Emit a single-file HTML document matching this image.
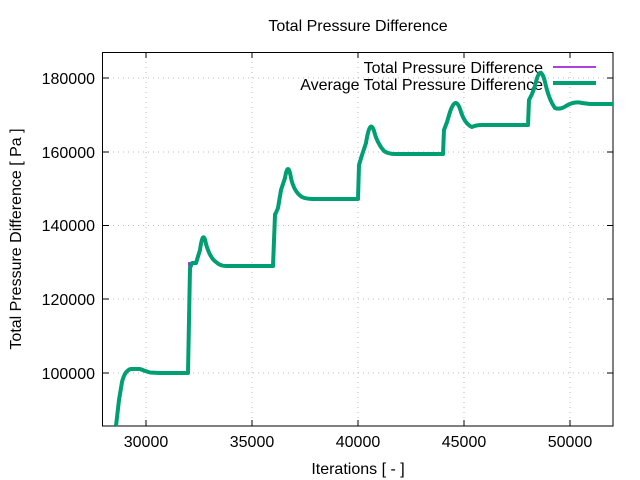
<!DOCTYPE html>
<html><head><style>body{margin:0;background:#fff}svg{display:block}text{font-family:"Liberation Sans",sans-serif;font-size:16px;fill:#000}</style></head><body>
<svg width="640" height="480" xmlns="http://www.w3.org/2000/svg">
<g stroke="#bbb" stroke-width="1" stroke-dasharray="1,4">
<line x1="146" y1="52" x2="146" y2="426"/><line x1="252" y1="52" x2="252" y2="426"/><line x1="358" y1="52" x2="358" y2="426"/><line x1="464" y1="52" x2="464" y2="426"/><line x1="570" y1="52" x2="570" y2="426"/>
<line x1="103" y1="373" x2="613" y2="373"/><line x1="103" y1="299" x2="613" y2="299"/><line x1="103" y1="225.5" x2="613" y2="225.5"/><line x1="103" y1="152" x2="613" y2="152"/><line x1="103" y1="78" x2="613" y2="78"/>
</g>
<g stroke="#000" stroke-width="1">
<rect x="102.5" y="52.5" width="510.5" height="373.5" fill="none"/>
<path d="M146 426v-6M252 426v-6M358 426v-6M464 426v-6M570 426v-6M146 52v6M252 52v6M358 52v6M464 52v6M570 52v6M103 373h6M103 299h6M103 225.5h6M103 152h6M103 78h6M613 373h-6M613 299h-6M613 225.5h-6M613 152h-6M613 78h-6"/>
</g>
<g text-anchor="end">
<text x="95" y="379">100000</text><text x="95" y="305">120000</text><text x="95" y="231">140000</text><text x="95" y="158">160000</text><text x="95" y="84">180000</text>
</g>
<g text-anchor="middle">
<text x="146" y="447">30000</text><text x="252" y="447">35000</text><text x="358" y="447">40000</text><text x="464" y="447">45000</text><text x="570" y="447">50000</text>
<text x="358" y="31">Total Pressure Difference</text>
<text x="358" y="474">Iterations [ - ]</text>
<text transform="translate(21,239) rotate(-90)">Total Pressure Difference [ Pa ]</text>
</g>
<g text-anchor="end"><text x="543" y="73">Total Pressure Difference</text><text x="543" y="90">Average Total Pressure Difference</text></g>
<line x1="553" y1="67" x2="596" y2="67" stroke="#9400d3" stroke-width="1.5"/>
<line x1="553" y1="83" x2="596" y2="83" stroke="#009e73" stroke-width="4"/>
<path d="M188.5 373 L189 262 M273.5 266 L274 213 M359 199 L359.5 165 M444 155 L444.5 128 M529 125 L529.5 98" stroke="#9400d3" stroke-width="1.5" fill="none"/>
<path d="M116 426 L119 400 L122 382 Q125 370 131 369 L140 369 Q145 371 150 372.5 L160 373 L188 373 L189 320 L190 268 L192 263 L196 263 L200 250 Q203 228 206 244 Q210 258 216 262 Q220 266 226 266 L273 266 L275 215 L278 208 L281 190 L285 178 Q288 160 291 178 Q294 192 302 197 Q306 199 314 199 L358 199 L359 165 L362 155 L366 143 Q370 118 374 131 Q377 143 384 151 Q388 154 396 154 L443 154 L444 130 L447 122 L450 112 Q456 94 461 112 Q465 124 472 127 Q476 125 482 125 L528 125 L529 100 L532 94 L535 86 Q540 62 545 82 Q549 100 555 108 Q560 110 566 106 Q574 101 582 103 L590 104 L613 104" stroke="#009e73" stroke-width="4" fill="none" stroke-linejoin="round"/>
</svg>
</body></html>
